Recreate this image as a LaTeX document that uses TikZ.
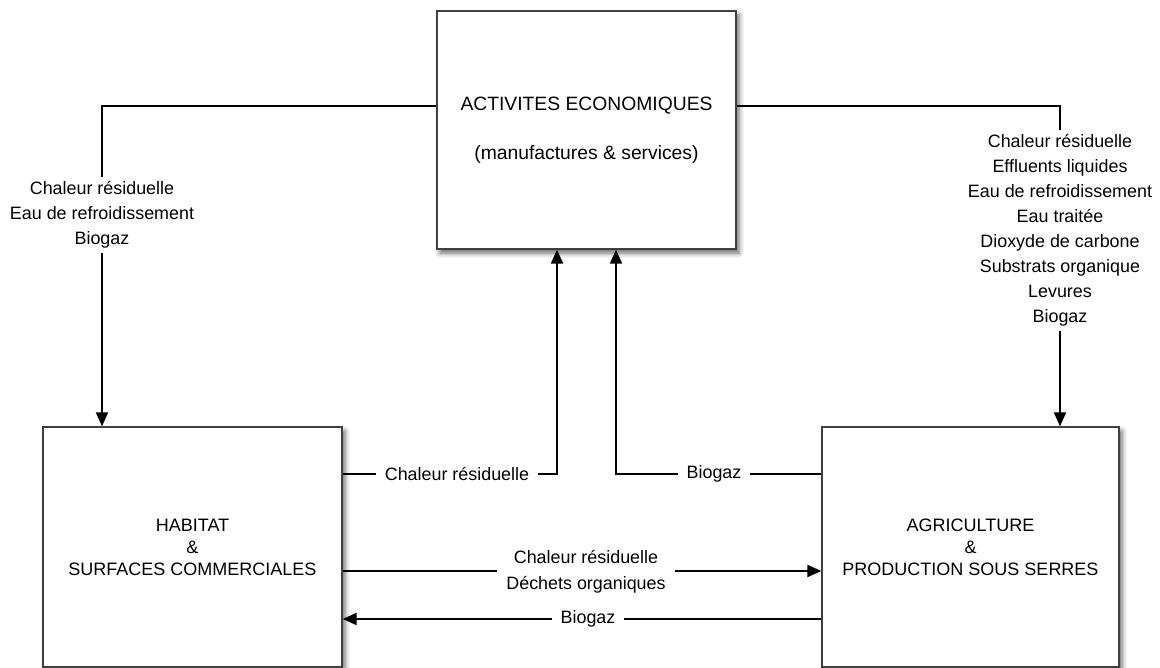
\documentclass[tikz,border=0pt]{standalone}
\usepackage{fontspec}
\setmainfont{Liberation Sans}
\usetikzlibrary{arrows.meta,shadows.blur}
\begin{document}
\begin{tikzpicture}[x=1pt,y=-1pt,
  box/.style={draw=black!75, line width=1.3pt, fill=white, align=center,
    blur shadow={shadow xshift=3pt, shadow yshift=-4pt, shadow blur radius=5pt, shadow opacity=60}},
  flow/.style={line width=1.9pt, black},
  arr/.style={flow, -{Triangle[length=14pt,width=12pt]}},
  lbl/.style={fill=white, align=center, inner xsep=9pt, inner ysep=5pt,
    font=\fontsize{17.9}{25}\selectfont},
]
\useasboundingbox (0,0) rectangle (1160,668);

% the three sectors
\node[box, minimum width=299pt, minimum height=238pt,
  font=\fontsize{19.3}{24}\selectfont] (eco) at (586.5,130)
  {ACTIVITES ECONOMIQUES\\[25pt](manufactures \& services)};
\node[box, minimum width=299pt, minimum height=240pt,
  font=\fontsize{18}{22}\selectfont] (hab) at (192.5,547)
  {HABITAT\\\&\\SURFACES COMMERCIALES};
\node[box, minimum width=297pt, minimum height=240pt,
  font=\fontsize{18}{22}\selectfont] (agr) at (970.5,547)
  {AGRICULTURE\\\&\\PRODUCTION SOUS SERRES};

% flows leaving the economic activities
\draw[arr] ([yshift=24pt]eco.west) -| ([xshift=-90.5pt]hab.north);
\node[lbl] (l1) at (102,215) {Chaleur résiduelle\\Eau de refroidissement\\Biogaz};

\draw[arr] ([yshift=24pt]eco.east) -| ([xshift=89.5pt]agr.north);
\node[lbl] (l2) at (1060,230.5) {Chaleur résiduelle\\Effluents liquides\\Eau de refroidissement\\Eau traitée\\Dioxyde de carbone\\Substrats organique\\Levures\\Biogaz};

% flows into the economic activities
\draw[arr] ([yshift=73pt]hab.east) -| ([xshift=-29.5pt]eco.south);
\node[lbl] (l3) at (457,474) {Chaleur résiduelle};

\draw[arr] ([yshift=73pt]agr.west) -| ([xshift=29.5pt]eco.south);
\node[lbl] (l4) at (714,474) {Biogaz};

% exchanges between housing and agriculture
\draw[arr] ([yshift=-24pt]hab.east) -- ([yshift=-24pt]agr.west);
\node[lbl, font=\fontsize{17.9}{26}\selectfont] (l5) at (586,572) {Chaleur résiduelle\\Déchets organiques};

\draw[arr] ([yshift=-72pt]agr.west) -- ([yshift=-72pt]hab.east);
\node[lbl] (l6) at (588,619) {Biogaz};
\end{tikzpicture}
\end{document}
